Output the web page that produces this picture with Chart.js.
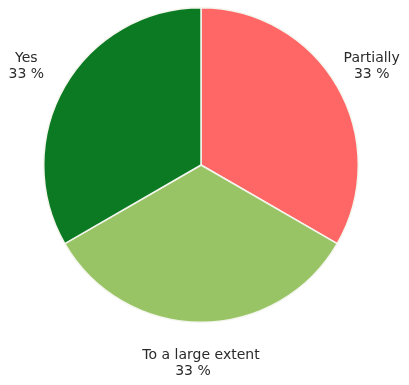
<!DOCTYPE html>
<html>
<head>
<meta charset="utf-8">
<script src="https://cdn.jsdelivr.net/npm/chart.js@4/dist/chart.umd.min.js"></script>
<style>
  html, body { margin: 0; padding: 0; background: #fff; }
  #wrap { width: 409px; height: 385px; }
</style>
</head>
<body>
<div id="wrap"><canvas id="pie" width="409" height="385"></canvas></div>
<script>
const categories = ['Partially', 'To a large extent', 'Yes'];
const values = [33, 33, 33];
const percentLabels = ['33 %', '33 %', '33 %'];
const colors = ['#ff6666', '#99c466', '#0b7a22'];

// labels outside each slice, placed along the slice's middle angle
const outsideLabels = {
    id: 'outsideLabels',
    afterDraw(chart) {
        const ctx = chart.ctx;
        const arcs = chart.getDatasetMeta(0).data;
        const nudge = [[-1, 0], [0, -8], [-3, 0]]; // small x tweak per label / percent line
        ctx.save();
        ctx.font = '14px "DejaVu Sans", sans-serif';
        ctx.fillStyle = '#2a2a2a';
        ctx.textAlign = 'center';
        ctx.textBaseline = 'middle';
        arcs.forEach((arc, i) => {
            const mid = (arc.startAngle + arc.endAngle) / 2;
            const r = arc.outerRadius + 41;
            const x = arc.x + Math.cos(mid) * r + nudge[i][0];
            const y = arc.y + Math.sin(mid) * r;
            ctx.fillText(categories[i], x, y - 8);
            ctx.fillText(percentLabels[i], x + nudge[i][1], y + 8.5);
        });
        ctx.restore();
    }
};

new Chart(document.getElementById('pie'), {
    type: 'pie',
    data: {
        labels: categories,
        datasets: [{
            data: values,
            backgroundColor: colors,
            borderColor: '#f4f6ee',
            borderWidth: 1.5,
        }],
    },
    options: {
        responsive: false,
        animation: false,
        layout: { padding: { top: 7, bottom: 62, left: 43, right: 50 } },
        plugins: {
            legend: { display: false },
            tooltip: { enabled: false },
        },
    },
    plugins: [outsideLabels],
});
</script>
</body>
</html>
